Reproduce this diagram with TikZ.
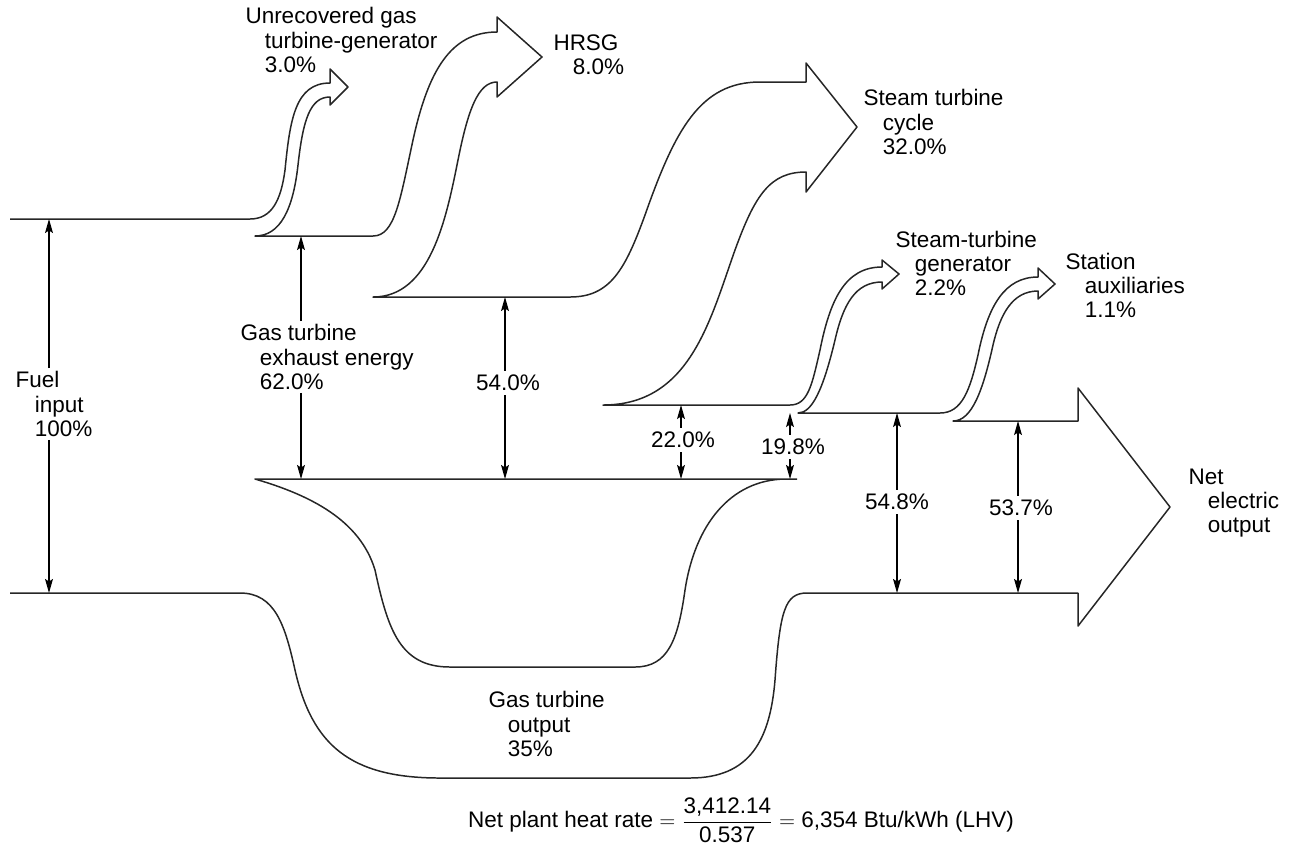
\documentclass[tikz,border=0pt]{standalone}
\usepackage{fontspec}
\setmainfont{Liberation Sans}
\usetikzlibrary{arrows.meta}

\newcommand{\indnt}{\hspace*{11pt}}

\tikzset{
  flow/.style={line width=0.85pt, line join=round, black!85},
  dimarrow/.style={-{Stealth[length=8pt,width=4.5pt,inset=1.5pt]}, line width=0.65pt},
  lbl/.style={align=left, anchor=west, inner sep=0pt, outer sep=2pt},
  pct/.style={inner sep=1.5pt, outer sep=1pt},
}

\begin{document}
\begin{tikzpicture}[x=0.02cm, y=-0.02cm, font=\fontsize{12.8}{13.7}\selectfont]
\useasboundingbox (0,0) rectangle (1290,850);

% upper edge of the streams, round the output arrow and back along the bottom
\draw[flow] (10,219) -- (250,219)
  .. controls (272,219) and (281,200) .. (285,170)
  .. controls (290,120) and (295,83) .. (330,83)
  -- (330,69) -- (348,87) -- (330,105) -- (330,97)
  .. controls (310,97) and (303,120) .. (298,165)
  .. controls (293,210) and (280,236) .. (255,236)
  -- (373,236)
  .. controls (395,236) and (400,200) .. (413,140)
  .. controls (428,72) and (450,32) .. (497,32)
  -- (497,17) -- (542,57) -- (497,97) -- (497,82)
  .. controls (478,82) and (468,110) .. (458,160)
  .. controls (446,220) and (430,297) .. (373,297)
  -- (570,297)
  .. controls (610,297) and (625,270) .. (645,215)
  .. controls (675,130) and (700,82) .. (760,82) -- (806,82)
  -- (806,63) -- (857,127) -- (806,192) -- (806,172)
  .. controls (770,172) and (755,195) .. (735,250)
  .. controls (710,320) and (690,405) .. (603,405)
  -- (790,405)
  .. controls (808,405) and (812,385) .. (820,350)
  .. controls (830,300) and (845,267) .. (882,267)
  -- (882,260) -- (899,274) -- (882,289) -- (882,282)
  .. controls (855,282) and (843,305) .. (835,340)
  .. controls (823,390) and (812,413) .. (798,413)
  -- (940,413)
  .. controls (962,413) and (970,390) .. (978,355)
  .. controls (988,305) and (1005,277) .. (1038,277)
  -- (1038,268) -- (1055,284) -- (1038,299) -- (1038,291)
  .. controls (1012,291) and (1000,315) .. (993,345)
  .. controls (983,390) and (972,421) .. (953,421)
  -- (1078,421) -- (1078,388) -- (1170,507) -- (1078,626) -- (1078,593)
  -- (807,593)
  .. controls (785,593) and (780,610) .. (775,680)
  .. controls (770,740) and (750,778) .. (690,778)
  -- (440,778)
  .. controls (350,778) and (312,745) .. (295,670)
  .. controls (285,625) and (275,593) .. (240,593)
  -- (10,593);

% exhaust stream, inner trough
\draw[flow] (797,479) -- (255,479)
  .. controls (310,495) and (360,520) .. (375,570)
  .. controls (388,630) and (400,667) .. (450,667)
  -- (635,667)
  .. controls (668,667) and (678,640) .. (685,590)
  .. controls (695,525) and (730,480) .. (785,479);

\node[lbl] (fuel) at (12,404) {Fuel\\\indnt input\\\indnt 100\%};
\node[lbl] (unrec) at (242,40) {Unrecovered gas\\\indnt turbine-generator\\\indnt 3.0\%};
\node[lbl] (hrsg) at (550,55) {HRSG\\\indnt 8.0\%};
\node[lbl] (stcyc) at (860,122) {Steam turbine\\\indnt cycle\\\indnt 32.0\%};
\node[lbl] (stgen) at (892,263) {Steam-turbine\\\indnt generator\\\indnt 2.2\%};
\node[lbl] (aux) at (1062,285) {Station\\\indnt auxiliaries\\\indnt 1.1\%};
\node[lbl] (net) at (1185,503) {Net\\\indnt electric\\\indnt output};
\node[lbl] (gtexh) at (237,357) {Gas turbine\\\indnt exhaust energy\\\indnt 62.0\%};
\node[lbl] (gtout) at (485,724) {Gas turbine\\\indnt output\\\indnt 35\%};

\node[pct] (p540) at (508,383) {54.0\%};
\node[pct] (p220) at (683,440) {22.0\%};
\node[pct] (p198) at (793,447) {19.8\%};
\node[pct] (p548) at (897,502) {54.8\%};
\node[pct] (p537) at (1021,508) {53.7\%};

\coordinate (ftop) at (49,219);    \coordinate (fbot) at (49,593);
\coordinate (etop) at (301,236);   \coordinate (ebot) at (301,479);
\coordinate (htop) at (505,297);   \coordinate (hbot) at (505,479);
\coordinate (ctop) at (681,405);   \coordinate (cbot) at (681,479);
\coordinate (gtop) at (790,413);   \coordinate (gbot) at (790,479);
\coordinate (atop) at (897,413);   \coordinate (abot) at (897,593);
\coordinate (ntop) at (1018,421);  \coordinate (nbot) at (1018,593);

\foreach \a/\b/\c in {fuel/ftop/fbot, gtexh/etop/ebot, p540/htop/hbot,
    p220/ctop/cbot, p198/gtop/gbot, p548/atop/abot, p537/ntop/nbot} {
  \draw[dimarrow] (\a.north -| \b) -- (\b);
  \draw[dimarrow] (\a.south -| \c) -- (\c);
}

\node (rate) at (741,820) {Net plant heat rate $=\displaystyle\frac{\mbox{3,412.14}}{\mbox{0.537}}=$ 6,354 Btu/kWh (LHV)};
\end{tikzpicture}
\end{document}
